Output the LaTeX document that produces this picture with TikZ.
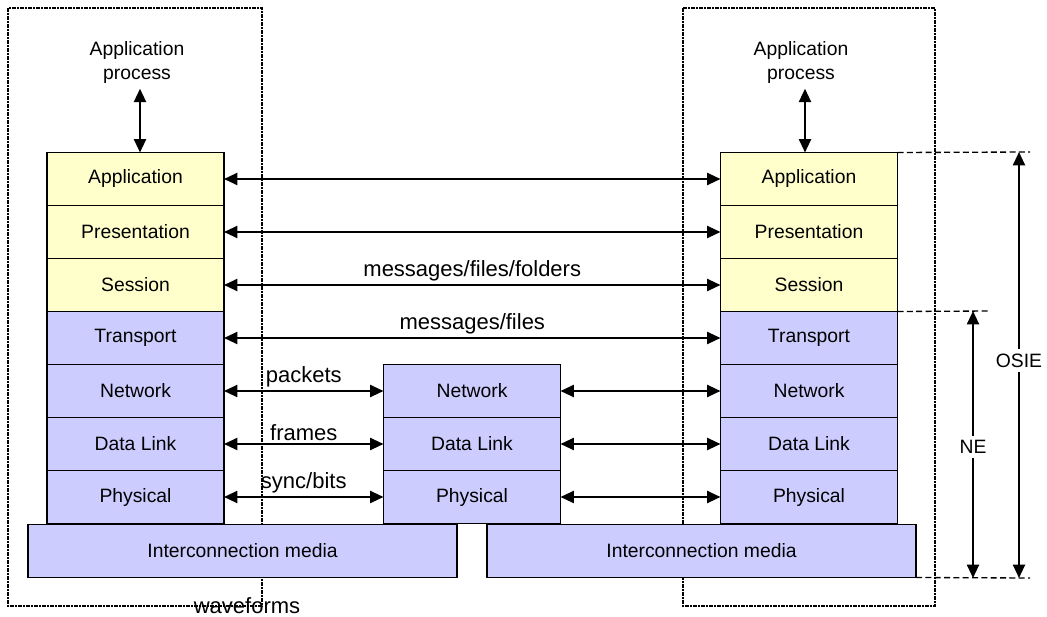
\documentclass[tikz,border=0pt]{standalone}
\usepackage{fontspec}
\setmainfont{Liberation Sans}
\usetikzlibrary{arrows.meta}
\usetikzlibrary{positioning}

\definecolor{osiyellow}{HTML}{FFFFCC}
\definecolor{osiblue}{HTML}{CCCCFF}

\tikzset{
  layer/.style={draw,line width=1.2pt,minimum width=132.75pt,minimum height=39.75pt,inner sep=0pt,outer sep=0pt,font=\fontsize{14.5}{16}\selectfont},
  upper/.style={layer,fill=osiyellow},
  lower/.style={layer,fill=osiblue},
  link/.style={line width=1.5pt,{Triangle[length=10pt,width=9pt]}-{Triangle[length=10pt,width=9pt]}},
  frame/.style={line width=0.9pt,dash pattern=on 3pt off 1pt on 1pt off 1pt},
  dimline/.style={line width=1pt,dash pattern=on 4.5pt off 2.5pt},
  lbl/.style={font=\fontsize{16.5}{18}\selectfont,inner sep=2pt},
  small/.style={font=\fontsize{14.5}{18}\selectfont}
}

\begin{document}
\begin{tikzpicture}[x=0.75pt,y=-0.75pt]
\useasboundingbox (0,0) rectangle (1047,617);
% cadres pointilles
\draw[frame] (8,8) rectangle (262,606);
\draw[frame] (683,8) rectangle (935,606);
% piles
\foreach \s/\x in {L/135.5,R/809}
  {
  \node[upper] (\s app) at (\x,179) {Application};
  \node[upper,below=0pt of \s app] (\s pre) {Presentation};
  \node[upper,below=0pt of \s pre] (\s ses) {Session};
  \node[lower,below=0pt of \s ses] (\s tra) {Transport};
  \node[lower,below=0pt of \s tra] (\s net) {Network};
  \node[lower,below=0pt of \s net] (\s dl) {Data Link};
  \node[lower,below=0pt of \s dl] (\s phy) {Physical};
  }
\node[lower] (Mnet) at (472,391) {Network};
\node[lower,below=0pt of Mnet] (Mdl) {Data Link};
\node[lower,below=0pt of Mdl] (Mphy) {Physical};
% supports
\node[lower,minimum width=321.75pt] (Lmed) at (242.5,551) {Interconnection media};
\node[lower,minimum width=321.75pt] (Rmed) at (701.5,551) {Interconnection media};
% processus
\node[small,align=center] (Lproc) at (137,63) {Application\\process};
\node[small,align=center] (Rproc) at (801,63) {Application\\process};
\draw[link] (Lproc.south -| 140,0) -- (Lapp.north -| 140,0);
\draw[link] (Rproc.south -| 805,0) -- (Rapp.north -| 805,0);
% fleches entre couches
\draw[link] (Lapp) -- (Rapp);
\draw[link] (Lpre) -- (Rpre);
\draw[link] (Lses) -- node[lbl,above] {messages/files/folders} (Rses);
\draw[link] (Ltra) -- node[lbl,above] {messages/files} (Rtra);
\draw[link] (Lnet) -- node[lbl,above] {packets} (Mnet);
\draw[link] (Ldl) -- node[lbl,above] {frames} (Mdl);
\draw[link] (Lphy) -- node[lbl,above] {sync/bits} (Mphy);
\draw[link] (Mnet) -- (Rnet);
\draw[link] (Mdl) -- (Rdl);
\draw[link] (Mphy) -- (Rphy);
\node[lbl] (wave) at (247,606) {waveforms};
% cotes
\coordinate (osTop) at (1030,152);
\coordinate (neTop) at (990,311);
\coordinate (osBot) at (1030,578);
\draw[dimline] (Rapp.north east) -- (osTop);
\draw[dimline] (Rtra.north east) -- (neTop);
\draw[dimline] (Rmed.south east) -- (osBot);
\draw[link] (1019,152) -- node[small,fill=white,pos=0.49] (osie) {OSIE} (1019,578);
\draw[link] (973,311) -- node[small,fill=white,pos=0.51] (ne) {NE} (973,578);
\end{tikzpicture}
\end{document}
